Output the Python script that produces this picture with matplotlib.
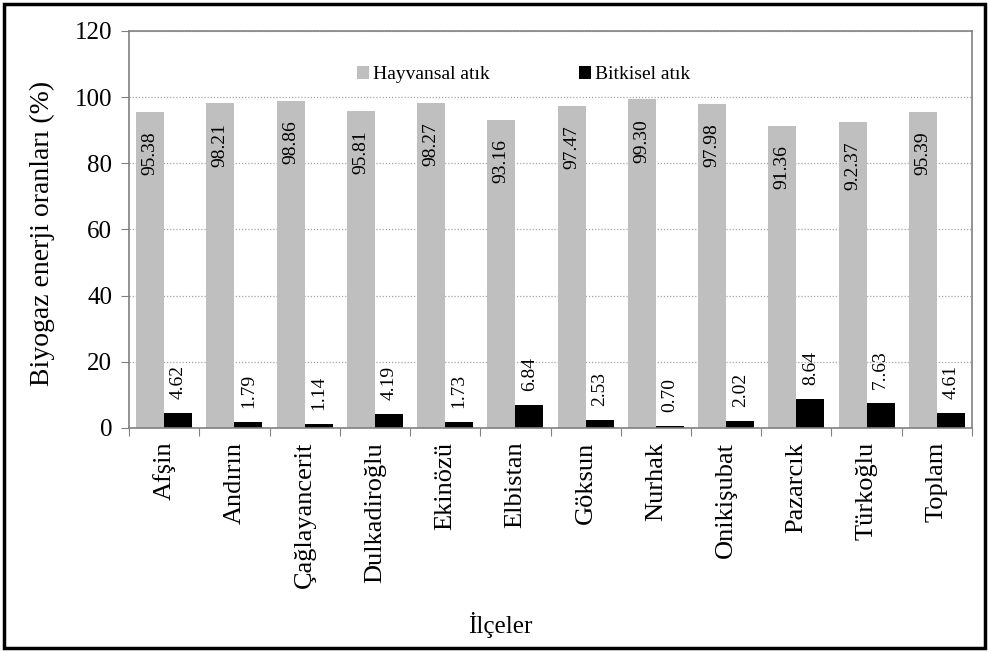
import matplotlib
matplotlib.use("Agg")
import matplotlib.pyplot as plt
from matplotlib.patches import Rectangle
import numpy as np

plt.rcParams['font.family'] = ['Liberation Serif', 'DejaVu Serif']

ilceler = ['Afşin', 'Andırın', 'Çağlayancerit', 'Dulkadiroğlu', 'Ekinözü', 'Elbistan',
           'Göksun', 'Nurhak', 'Onikişubat', 'Pazarcık', 'Türkoğlu', 'Toplam']
hayvansal = [95.38, 98.21, 98.86, 95.81, 98.27, 93.16, 97.47, 99.30, 97.98, 91.36, 92.37, 95.39]
bitkisel = [4.62, 1.79, 1.14, 4.19, 1.73, 6.84, 2.53, 0.70, 2.02, 8.64, 7.63, 4.61]
hayvansal_etiket = ['95.38', '98.21', '98.86', '95.81', '98.27', '93.16', '97.47', '99.30',
                    '97.98', '91.36', '9.2.37', '95.39']
bitkisel_etiket = ['4.62', '1.79', '1.14', '4.19', '1.73', '6.84', '2.53', '0.70',
                   '2.02', '8.64', '7..63', '4.61']

fig = plt.figure(figsize=(9.91, 6.52), dpi=100)
ax = fig.add_axes([0.1302, 0.3436, 0.8506, 0.6089])

x = np.arange(len(ilceler))
w = 0.4
ax.bar(x - w / 2, hayvansal, w, color='#bfbfbf', label='Hayvansal atık', zorder=2)
ax.bar(x + w / 2, bitkisel, w, color='black', label='Bitkisel atık', zorder=2)

# value labels: inside the top of the grey bars, above the black ones
for xi, v, t in zip(x, hayvansal, hayvansal_etiket):
    ax.annotate(t, (xi - w / 2, v), xytext=(0, -14), textcoords='offset points',
                rotation=90, ha='center', va='top', fontsize=14, zorder=3)
for xi, v, t in zip(x, bitkisel, bitkisel_etiket):
    ax.annotate(t, (xi + w / 2, v), xytext=(0, 10), textcoords='offset points',
                rotation=90, ha='center', va='bottom', fontsize=14, zorder=3)

ax.set_xlim(-0.5, len(ilceler) - 0.5)
ax.set_ylim(0, 120)
ax.set_yticks(range(0, 121, 20))
ax.set_xticks(np.arange(len(ilceler) + 1) - 0.5)
ax.set_xticklabels([])
ax.set_xticks(x, minor=True)
ax.set_xticklabels(ilceler, minor=True, rotation=90, fontsize=19, va='top')
ax.tick_params(axis='x', which='minor', length=0, pad=10)
ax.tick_params(axis='x', which='major', direction='out', length=6, color='#808080')
ax.tick_params(axis='y', direction='out', length=6, color='#808080', labelsize=18, pad=6)

ax.yaxis.grid(True, linestyle=(0, (1, 1.5)), color='#a6a6a6', linewidth=0.9, zorder=0)
for s in ax.spines.values():
    s.set_color('#808080')
    s.set_linewidth(1.2)

ax.set_ylabel('Biyogaz enerji oranları (%)', fontsize=20)
ax.yaxis.set_label_coords(-0.088, 0.49)
fig.text(500 / 991, 1 - 625 / 652, 'İlçeler', ha='center', va='center', fontsize=18)

ax.legend(ncol=2, loc='upper center', bbox_to_anchor=(0.468, 0.955), frameon=False,
          fontsize=14, handlelength=0.6, handleheight=0.6, handletextpad=0.2,
          columnspacing=4.6)

fig.patches.append(Rectangle((4 / 991, 4 / 652), 981 / 991, 644 / 652, transform=fig.transFigure,
                             fill=False, edgecolor='black', linewidth=2.5))

fig.savefig('out.png', dpi=100)
